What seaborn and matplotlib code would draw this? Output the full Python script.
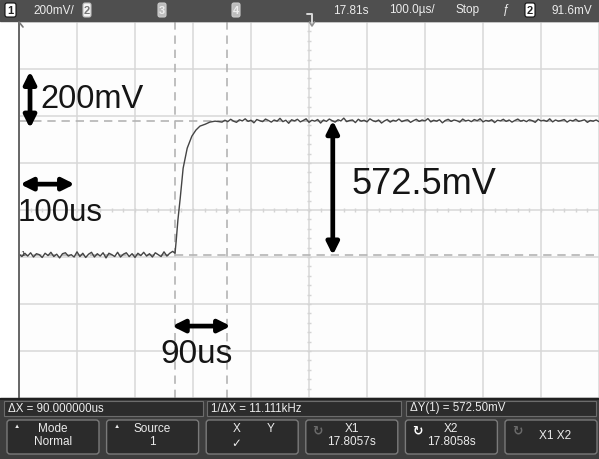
import numpy as np
import pandas as pd
import matplotlib
matplotlib.use("Agg")
import matplotlib.pyplot as plt
import seaborn as sns
from matplotlib.patches import Rectangle, FancyBboxPatch

sns.set_theme(style="white")
plt.rcParams['font.family'] = ['Liberation Sans', 'DejaVu Sans']

# ---------------- data (read from the screen) ----------------
# baseline samples, every 5 us from t = 0 us (mV)
base_mv = [4, -6, 8, -4, 10, -8, 6, 2, -10, 8, -2, 12, -6, 4, -12, 6, 10, -4,
           2, -8, 14, -6, 8, -10, 4, 12, -8, 6, -4, 10, -12, 8, 2, -6, 12, -8,
           4, 10, -6, 6, -10, 8, -2, 12, -4, 6, -8, 10, 2, -6, 14, -4, 8, 16]
# rising edge (us, mV)
rise_t = [269, 271, 274, 278, 283, 290, 298, 305, 312, 321, 329, 338, 345]
rise_mv = [8, 60, 150, 243, 370, 455, 506, 532, 549, 557, 566, 570, 568]
# settled level samples, every 5 us from t = 350 us (mV)
top_mv = [566, 574, 568, 578, 570, 565, 576, 571, 580, 569, 574, 563, 577, 572,
          568, 579, 573, 566, 575, 570, 582, 568, 574, 561, 576, 571, 578, 567,
          573, 580, 565, 574, 570, 577, 562, 575, 569, 579, 572, 566, 576, 571,
          583, 568, 573, 575, 564, 578, 570, 574, 567, 580, 572, 568, 575, 562,
          571, 577, 566, 574, 570, 579, 568, 573, 576, 565, 572, 578, 569, 575,
          571, 581, 567, 574, 570, 576, 563, 573, 578, 569, 575, 572, 566, 579,
          571, 574, 568, 577, 572, 580, 567, 573, 570, 576, 564, 574, 571, 578,
          569, 575, 566, 573, 579, 570, 574, 568, 576, 572, 565, 578, 571, 574,
          569, 580, 567, 575, 570, 573, 577, 566, 574, 571, 578, 569, 572, 576,
          565, 573, 570, 575, 568]

cursor_x_us = [269, 359]          # X1, X2
cursor_y_mv = [0.0, 572.5]        # Y1, Y2
x_range_us = [0, 1000]            # 100 us/div, 10 div
y_range_mv = [-608, 992]          # 200 mV/div, 8 div

top_bar_labels = ["200mV/", "17.81s", "100.0µs/", "Stop", "91.6mV"]
info_labels = ["ΔX = 90.000000us", "1/ΔX = 11.111kHz", "ΔY(1) = 572.50mV"]
button_top = ["Mode", "Source", "", "X1", "X2", ""]
button_bottom = ["Normal", "1", "", "17.8057s", "17.8058s", ""]
annot_labels = ["200mV", "100us", "572.5mV", "90us"]

# ---------------- build frame ----------------
t_base = np.arange(len(base_mv)) * 5.0
t_top = 350 + np.arange(len(top_mv)) * 5.0
df = pd.DataFrame({
    "t": np.concatenate([t_base, rise_t, t_top]),
    "v": np.concatenate([base_mv, rise_mv, top_mv]),
})

W, H = 599, 459
fig = plt.figure(figsize=(W / 100, H / 100), dpi=100)
fig.patch.set_facecolor("white")


def px(x0, y0, x1, y1):
    return [x0 / W, 1 - y1 / H, (x1 - x0) / W, (y1 - y0) / H]


ax = fig.add_axes(px(19, 22, 599, 398))
ax.set_facecolor("#fdfdfd")
ax.set_xlim(*x_range_us)
ax.set_ylim(*y_range_mv)
ax.set_xticks(np.arange(x_range_us[0], x_range_us[1] + 1, 100))
ax.set_yticks(np.arange(y_range_mv[0], y_range_mv[1] + 1, 200))
ax.grid(True, color="#d8d8d8", lw=1.1)
ax.tick_params(length=0, labelbottom=False, labelleft=False)
for s in ["top", "right", "bottom"]:
    ax.spines[s].set_visible(False)
ax.spines["left"].set_color("#666666")
ax.spines["left"].set_linewidth(1.4)

# minor ticks on center axes
xc = (x_range_us[0] + x_range_us[1]) / 2
yc = y_range_mv[0] + 800
ymt = np.arange(y_range_mv[0], y_range_mv[1] + 1, 40)
xmt = np.arange(x_range_us[0], x_range_us[1] + 1, 20)
ax.vlines(xmt, yc - 10, yc + 10, color="#d4d4d4", lw=1.0)
ax.hlines(ymt, xc - 4, xc + 4, color="#d4d4d4", lw=1.0)

# cursors
for cx in cursor_x_us:
    ax.axvline(cx, color="#b4b4b4", lw=1.2, ls=(0, (5, 3.5)))
for cy in cursor_y_mv:
    ax.axhline(cy, color="#b4b4b4", lw=1.2, ls=(0, (5, 3.5)))

sns.lineplot(data=df, x="t", y="v", ax=ax, color="#444444", lw=1.0,
             estimator=None, sort=False)
ax.set_xlabel("")
ax.set_ylabel("")

# annotations
ap = dict(arrowstyle="<|-|>", color="black", lw=3.4, mutation_scale=18,
          shrinkA=0, shrinkB=0)
ax.annotate("", xy=(19, 540), xytext=(19, 782), arrowprops=ap)
ax.annotate("", xy=(2, 302), xytext=(96, 302), arrowprops=ap)
ax.annotate("", xy=(541, cursor_y_mv[0]), xytext=(541, cursor_y_mv[1]), arrowprops=ap)
ax.annotate("", xy=(264, -302), xytext=(365, -302), arrowprops=ap)
tcol = "#151515"
ax.text(36, 662, annot_labels[0], fontsize=23.5, va="center", ha="left", color=tcol)
ax.text(-3, 181, annot_labels[1], fontsize=22.5, va="center", ha="left", color=tcol, clip_on=False)
ax.text(574, 300, annot_labels[2], fontsize=26, va="center", ha="left", color=tcol)
ax.text(243, -425, annot_labels[3], fontsize=24, va="center", ha="left", color=tcol)

# ---------------- chrome overlay (pixel coords) ----------------
ch = fig.add_axes([0, 0, 1, 1])
ch.set_xlim(0, W)
ch.set_ylim(H, 0)
ch.axis("off")
ch.patch.set_alpha(0)

small = ['Liberation Sans Narrow', 'Liberation Sans', 'DejaVu Sans']
tc = "#ececec"

# top bar
ch.add_patch(Rectangle((0, 0), W, 21, color="#4f4f4f", zorder=1))


def chbox(x0, x1, label, fill, tcol, ec):
    ch.add_patch(FancyBboxPatch((x0, 3), x1 - x0, 14, boxstyle="round,pad=0,rounding_size=2",
                                fc=fill, ec=ec, lw=0.8, zorder=2))
    ch.text((x0 + x1) / 2, 10.5, label, ha="center", va="center", fontsize=8,
            color=tcol, family=small, weight="bold", zorder=3)


chbox(5, 16, "1", "#ffffff", "#222222", "#111111")
chbox(83, 91, "2", "#f4f4f4", "#777777", "#bbbbbb")
chbox(158, 166, "3", "#bdbdbd", "#eeeeee", "#cccccc")
chbox(232, 240, "4", "#bdbdbd", "#eeeeee", "#cccccc")
chbox(525, 535, "2", "#ffffff", "#222222", "#111111")

ch.text(33, 10.5, top_bar_labels[0], fontsize=8.5, color=tc, va="center", family=small, zorder=3)
ch.text(333, 10.5, top_bar_labels[1], fontsize=8.5, color=tc, va="center", family=small, zorder=3)
ch.text(389, 10.5, top_bar_labels[2], fontsize=8.5, color=tc, va="center", family=small, zorder=3)
ch.text(455, 10.5, top_bar_labels[3], fontsize=8.5, color=tc, va="center", family=small, zorder=3)
ch.text(503, 10.5, "ƒ", fontsize=8.5, color=tc, va="center", family=small, zorder=3)
ch.text(551, 10.5, top_bar_labels[4], fontsize=8.5, color=tc, va="center", family=small, zorder=3)

# trigger marker
ch.plot([307, 312, 312], [14, 14, 25], color="#d9d9d9", lw=1.4, zorder=3)
ch.plot([309.5, 312, 314.5], [22, 26, 22], color="#909090", lw=1.2, zorder=3)
# channel/ground marker at left
ch.text(20, 255, "1", fontsize=6, color="#444444", va="center", ha="left", family=small)
ch.plot([19, 23], [22, 27], color="#777777", lw=1.2)

# bottom panel
ch.add_patch(Rectangle((0, 398), W, H - 398, color="#3d3d3d", zorder=1))
ch.plot([0, W], [398.5, 398.5], color="#202020", lw=1.5, zorder=2)
info_boxes = [(4, 203), (207, 401), (406, 596)]
for (x0, x1), lab in zip(info_boxes, info_labels):
    ch.add_patch(Rectangle((x0, 400.5), x1 - x0, 15.5, fc="#2c2c2c", ec="#6c6c6c", lw=0.8, zorder=2))
    ch.text(x0 + 4, 408.5, lab, fontsize=8.3, color=tc, va="center", ha="left", family=small, zorder=3)

for i in range(6):
    x0 = 7 + i * 99.6
    ch.add_patch(FancyBboxPatch((x0, 420), 92, 34, boxstyle="round,pad=0,rounding_size=3",
                                fc="#2b2b2b", ec="#7a7a7a", lw=1.0, zorder=2))
    cx = x0 + 46
    if button_top[i]:
        ch.text(cx, 428.5, button_top[i], fontsize=8.5, color=tc, ha="center", va="center", family=small, zorder=3)
    if button_bottom[i]:
        ch.text(cx, 442, button_bottom[i], fontsize=8.5, color=tc, ha="center", va="center", family=small, zorder=3)
    if i in (0, 1):
        ch.text(x0 + 10, 427, "▲", fontsize=4.5, color=tc, ha="center", va="center", zorder=3)
    if i == 2:
        ch.text(x0 + 30, 428.5, "X", fontsize=8.5, color=tc, ha="center", va="center", family=small, zorder=3)
        ch.text(x0 + 64, 428.5, "Y", fontsize=8.5, color=tc, ha="center", va="center", family=small, zorder=3)
        ch.text(x0 + 30, 443, "✓", fontsize=8.5, color=tc, ha="center", va="center", family="DejaVu Sans", zorder=3)
    if i in (3, 4, 5):
        col = "#ffffff" if i == 4 else "#6a6a6a"
        ch.text(x0 + 12, 431, "↻", fontsize=9, color=col, ha="center", va="center",
                family="DejaVu Sans", weight="bold", zorder=3)
    if i == 5:
        ch.text(cx + 4, 436, "X1 X2", fontsize=8.5, color=tc, ha="center", va="center", family=small, zorder=3)

fig.savefig("out.png", dpi=100)
